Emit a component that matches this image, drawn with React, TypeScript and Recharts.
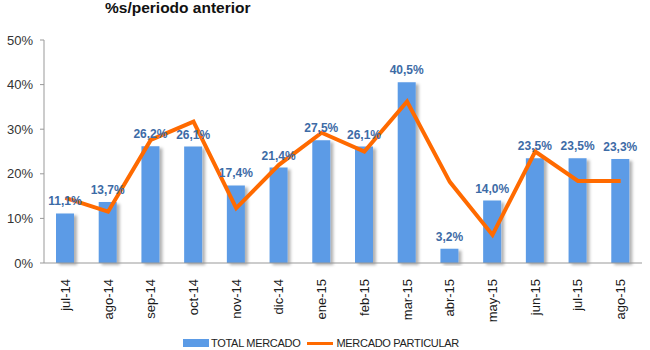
import { ComposedChart, Bar, Line, XAxis, YAxis, LabelList, Legend } from 'recharts';

const months = ['jul-14', 'ago-14', 'sep-14', 'oct-14', 'nov-14', 'dic-14', 'ene-15', 'feb-15', 'mar-15', 'abr-15', 'may-15', 'jun-15', 'jul-15', 'ago-15'];
const totalMercado = [11.1, 13.7, 26.2, 26.1, 17.4, 21.4, 27.5, 26.1, 40.5, 3.2, 14.0, 23.5, 23.5, 23.3];
const mercadoParticular = [14.6, 11.5, 27.6, 31.7, 12.3, 22.0, 29.2, 25.0, 36.2, 18.2, 6.3, 25.0, 18.4, 18.4];
const yTicks = [0, 10, 20, 30, 40, 50];

const data = months.map((m, i) => ({ month: m, total: totalMercado[i], particular: mercadoParticular[i] }));

const BLUE = '#5b9be6';
const ORANGE = '#ff6a00';
const FONT = "'Liberation Sans', Arial, sans-serif";
const pct = (v: number) => v.toFixed(1).replace('.', ',') + '%';

function MonthTick({ x, y, payload }: any) {
  return (
    <text
      x={x}
      y={y + 8}
      transform={`rotate(-90 ${x} ${y + 8})`}
      textAnchor="end"
      dominantBaseline="central"
      fontSize={13}
      fontFamily={FONT}
      fill="#1a1a1a"
    >
      {payload.value}
    </text>
  );
}

function LegendBox() {
  return (
    <div
      style={{
        height: 14,
        display: 'flex',
        justifyContent: 'center',
        alignItems: 'center',
        gap: 7,
        fontFamily: FONT,
        fontSize: 11,
        letterSpacing: -0.3,
        color: '#222',
      }}
    >
      <span style={{ display: 'inline-flex', alignItems: 'center' }}>
        <span style={{ width: 26, height: 8, background: BLUE, marginRight: 2 }} />
        TOTAL MERCADO
      </span>
      <span style={{ display: 'inline-flex', alignItems: 'center' }}>
        <span style={{ width: 26, height: 3, background: ORANGE, marginRight: 3 }} />
        MERCADO PARTICULAR
      </span>
    </div>
  );
}

export default function App() {
  return (
    <div style={{ position: 'absolute', left: 0, top: 0, width: 650, height: 350, background: '#fff' }}>
      <div
        style={{
          position: 'absolute',
          left: 105,
          top: 0,
          lineHeight: '16px',
          fontFamily: FONT,
          fontWeight: 'bold',
          fontSize: 15.5,
          color: '#111',
        }}
      >
        %s/periodo anterior
      </div>
      <ComposedChart width={650} height={350} data={data} margin={{ top: 40, right: 8, left: 0, bottom: 0 }}>
        <defs>
          <filter id="barShadow" x="-20%" y="-10%" width="160%" height="130%">
            <feDropShadow dx={3} dy={2} stdDeviation={1.5} floodColor="#000" floodOpacity={0.3} />
          </filter>
        </defs>
        <XAxis
          dataKey="month"
          interval={0}
          height={73}
          tick={<MonthTick />}
          tickLine={false}
          axisLine={{ stroke: '#999' }}
        />
        <YAxis
          domain={[0, 50]}
          ticks={yTicks}
          width={44}
          tickFormatter={(v: number) => v + '%'}
          tick={{ fontSize: 13, fill: '#333', fontFamily: FONT }}
          tickSize={4}
          tickMargin={7}
          tickLine={{ stroke: '#999' }}
          axisLine={{ stroke: '#999' }}
        />
        <Legend verticalAlign="bottom" content={<LegendBox />} />
        <Bar dataKey="total" name="TOTAL MERCADO" fill={BLUE} barSize={18} filter="url(#barShadow)" isAnimationActive={false}>
          <LabelList
            dataKey="total"
            position="top"
            offset={8}
            formatter={(v: any) => pct(Number(v))}
            style={{ fontSize: 12, fontWeight: 'bold', fill: '#3d6ba6', fontFamily: FONT }}
          />
        </Bar>
        <Line
          dataKey="particular"
          name="MERCADO PARTICULAR"
          stroke={ORANGE}
          strokeWidth={4}
          dot={false}
          activeDot={false}
          type="linear"
          isAnimationActive={false}
        />
      </ComposedChart>
    </div>
  );
}
